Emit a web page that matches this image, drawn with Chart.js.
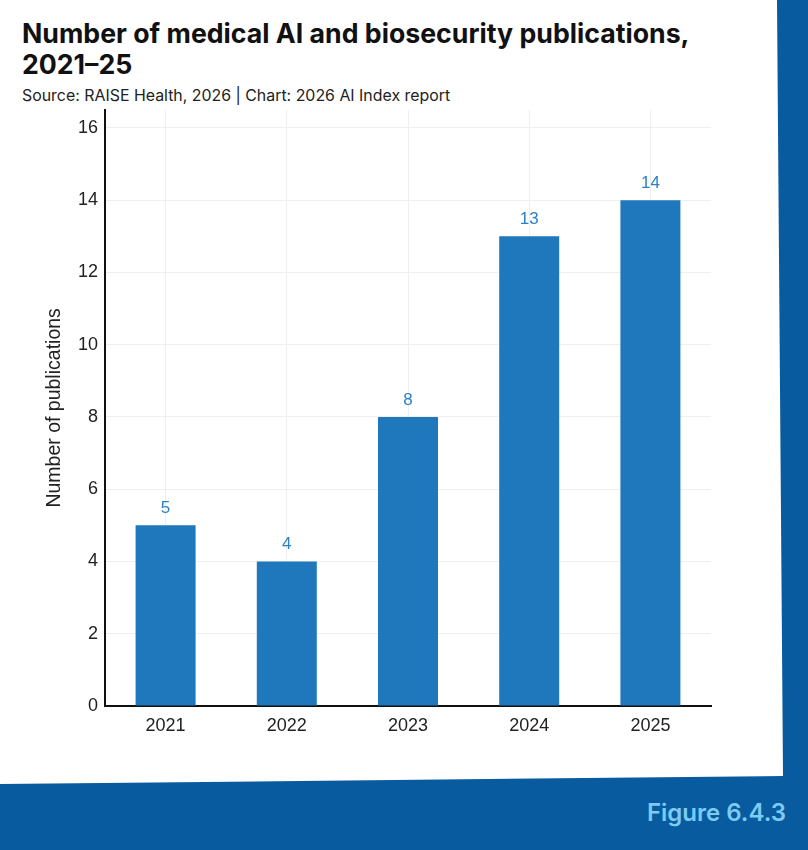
<!DOCTYPE html>
<html>
<head>
<meta charset="utf-8">
<script src="https://cdn.jsdelivr.net/npm/chart.js@4.4.1/dist/chart.umd.min.js"></script>
<style>
  html, body { margin: 0; padding: 0; }
  body { width: 808px; height: 850px; background: #085b9f; position: relative; overflow: hidden; }
  .card {
    position: absolute; left: 0; top: 0; width: 808px; height: 850px; background: #ffffff;
    clip-path: polygon(0 0, 777px 0, 783px 776px, 0 784px);
  }
  .title {
    position: absolute; left: 22px; top: 18px; margin: 0;
    font-family: Inter, "Liberation Sans", sans-serif; font-weight: 700; font-size: 26.7px; line-height: 31px; color: #111;
  }
  .source {
    position: absolute; left: 22px; top: 86px;
    font-family: Inter, "Liberation Sans", sans-serif; font-size: 15.9px; color: #222;
  }
  .fig {
    position: absolute; right: 22px; top: 798px;
    font-family: Inter, "Liberation Sans", sans-serif; font-weight: 600; font-size: 24px; color: #7ccbf3;
  }
  #chart { position: absolute; left: 0; top: 92px; }
</style>
</head>
<body>
<div class="card">
  <h1 class="title">Number of medical AI and biosecurity publications,<br>2021–25</h1>
  <div class="source">Source: RAISE Health, 2026 | Chart: 2026 AI Index report</div>
  <canvas id="chart" width="760" height="668"></canvas>
</div>
<div class="fig">Figure 6.4.3</div>

<script>
  const years = ['2021', '2022', '2023', '2024', '2025'];
  const publications = [5, 4, 8, 13, 14];
  const yTicks = [0, 2, 4, 6, 8, 10, 12, 14, 16];

  const barColor = '#1f77bc';
  const labelColor = '#2c82c4';

  // value labels above each bar
  const barLabels = {
    id: 'barLabels',
    afterDatasetsDraw(chart) {
      const ctx = chart.ctx;
      const meta = chart.getDatasetMeta(0);
      ctx.save();
      ctx.fillStyle = labelColor;
      ctx.font = '17px "Liberation Sans", Arial, sans-serif';
      ctx.textAlign = 'center';
      ctx.textBaseline = 'middle';
      meta.data.forEach(function(bar, i){
        ctx.fillText(String(publications[i]), bar.x, bar.y - 17);
      });
      ctx.restore();
    }
  };

  const ctx = document.getElementById('chart').getContext('2d');
  new Chart(ctx, {
    type: 'bar',
    data: {
      labels: years,
      datasets: [{
        data: publications,
        backgroundColor: barColor,
        borderWidth: 0,
        barPercentage: 0.495,
        categoryPercentage: 1,
      }]
    },
    options: {
      responsive: false,
      animation: false,
      layout: { padding: { left: 0, right: 49, top: 2, bottom: 0 } },
      plugins: {
        legend: { display: false },
        tooltip: { enabled: false },
      },
      scales: {
        x: {
          afterFit: (scale) => { scale.height = 54; },
          grid: { offset: false, color: '#efefef', drawTicks: false },
          border: { color: '#111', width: 2 },
          ticks: {
            padding: 9,
            color: '#222',
            font: { family: '"Liberation Sans", Arial, sans-serif', size: 18 },
          },
        },
        y: {
          min: 0,
          max: 16.5,
          afterFit: (scale) => { scale.width = 105; },
          afterBuildTicks: (scale) => { scale.ticks = yTicks.map(v => ({ value: v })); },
          grid: { color: '#efefef', drawTicks: false },
          border: { color: '#111', width: 2 },
          ticks: {
            padding: 7,
            color: '#222',
            font: { family: '"Liberation Sans", Arial, sans-serif', size: 18 },
          },
          title: {
            display: true,
            text: 'Number of publications',
            color: '#222',
            padding: { top: 43, bottom: 0 },
            font: { family: '"Liberation Sans", Arial, sans-serif', size: 19.5 },
          },
        },
      },
    },
    plugins: [barLabels],
  });
</script>
</body>
</html>
